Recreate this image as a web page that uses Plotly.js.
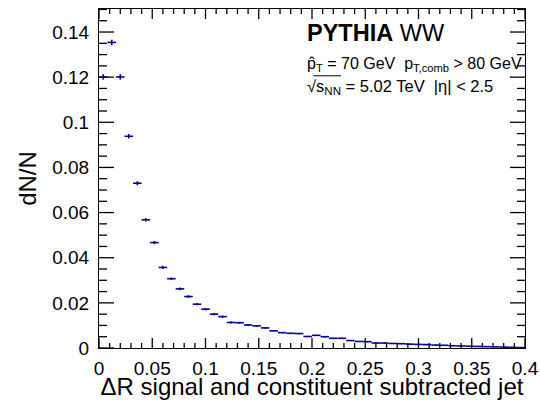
<!DOCTYPE html>
<html>
<head>
<meta charset="utf-8">
<script src="https://cdn.plot.ly/plotly-3.0.1.min.js"></script>
<style>html,body{margin:0;padding:0;background:#fff;}#chart{width:540px;height:400px;}</style>
</head>
<body>
<div id="chart"></div>
<script>
// Bin centres of Delta R (bin width 0.008, 50 bins from 0 to 0.4)
const binWidth = 0.008;
const binLow = 0.0;
const nBins = 50;
// dN/N values
const dNN = [
  0.1201, 0.1354, 0.1201, 0.0938, 0.0730, 0.0568, 0.0467, 0.0357, 0.0307, 0.0262,
  0.0228, 0.0194, 0.0172, 0.0150, 0.0139, 0.0113, 0.0112, 0.0102, 0.0098, 0.0089,
  0.0076, 0.0068, 0.0065, 0.0064, 0.0051, 0.0056, 0.0050, 0.0043, 0.0043, 0.0033,
  0.0029, 0.0028, 0.0022, 0.0022, 0.0020, 0.0019, 0.0017, 0.0016, 0.0015, 0.0013,
  0.0012, 0.0010, 0.0009, 0.0008, 0.0007, 0.0006, 0.0005, 0.0004, 0.0003, 0.0002
];
// vertical (statistical) error estimates
const dNNerr = [
  0.0012, 0.0012, 0.0012, 0.0010, 0.0009, 0.0008, 0.0007, 0.0007, 0.0006, 0.0006,
  0.0006, 0.0005, 0.0005, 0.0005, 0.0005, 0.0004, 0.0004, 0.0004, 0.0004, 0.0004,
  0.0003, 0.0003, 0.0003, 0.0003, 0.0003, 0.0003, 0.0003, 0.0002, 0.0002, 0.0002,
  0.0002, 0.0002, 0.0002, 0.0002, 0.0002, 0.0002, 0.0002, 0.0001, 0.0001, 0.0001,
  0.0001, 0.0001, 0.0001, 0.0001, 0.0001, 0.0001, 0.0001, 0.0001, 0.0001, 0.0001
];
const xTickVals = [0, 0.05, 0.1, 0.15, 0.2, 0.25, 0.3, 0.35, 0.4];
const xTickText = ['0', '0.05', '0.1', '0.15', '0.2', '0.25', '0.3', '0.35', '0.4'];
const yTickVals = [0, 0.02, 0.04, 0.06, 0.08, 0.1, 0.12, 0.14];
const yTickText = ['0', '0.02', '0.04', '0.06', '0.08', '0.1', '0.12', '0.14'];
const xMinorStep = 0.01;
const yMinorStep = 0.005;

const xCenters = [];
for (let i = 0; i < nBins; i++) xCenters.push(binLow + binWidth * (i + 0.5));

const col = '#000099';
const trace = {
  x: xCenters,
  y: dNN,
  type: 'scatter',
  mode: 'markers',
  marker: {size: 1, color: col},
  error_x: {type: 'constant', value: binWidth / 2, width: 0, thickness: 1.6, color: col},
  error_y: {type: 'data', array: dNNerr, visible: true, width: 0, thickness: 1.6, color: col},
  hoverinfo: 'skip',
  showlegend: false
};

const font = 'Liberation Sans, Arial, Helvetica, sans-serif';
const xRange = [0, 0.4];
const yRange = [0, 0.1502];
const W = 540, H = 400, M = {l: 99, r: 15, t: 9, b: 52};
const plotW = W - M.l - M.r, plotH = H - M.t - M.b;

// ROOT-style inside tick marks on all four sides (axis furniture built from the tick arrays)
const isMajor = (v, arr) => arr.some(t => Math.abs(t - v) < 1e-9);
const ySpan = yRange[1] - yRange[0], xSpan = xRange[1] - xRange[0];
const bx = [], by = [], tpx = [], tpy = [], lx = [], ly = [], rx = [], ry = [];
for (let i = 0; ; i++) {
  const v = Math.round((xRange[0] + i * xMinorStep) * 1e6) / 1e6;
  if (v > xRange[1] + 1e-9) break;
  const len = (isMajor(v, xTickVals) ? 10 : 5) / plotH * ySpan;
  bx.push(v, v, null); by.push(yRange[0], yRange[0] + len, null);
  tpx.push(v, v, null); tpy.push(yRange[1], yRange[1] - len, null);
}
for (let i = 0; ; i++) {
  const v = Math.round((yRange[0] + i * yMinorStep) * 1e6) / 1e6;
  if (v > yRange[1] + 1e-9) break;
  const len = (isMajor(v, yTickVals) ? 15 : 8) / plotW * xSpan;
  lx.push(xRange[0], xRange[0] + len, null); ly.push(v, v, null);
  rx.push(xRange[1], xRange[1] - len, null); ry.push(v, v, null);
}
const tickStyle = {type: 'scatter', mode: 'lines', connectgaps: false, cliponaxis: false,
  line: {color: '#000', width: 1.3, simplify: false}, hoverinfo: 'skip', showlegend: false};
const tickTraces = [
  Object.assign({x: bx, y: by}, tickStyle),
  Object.assign({x: tpx, y: tpy}, tickStyle),
  Object.assign({x: lx, y: ly}, tickStyle),
  Object.assign({x: rx, y: ry}, tickStyle)
];

const layout = {
  width: W, height: H,
  margin: M,
  paper_bgcolor: '#fff', plot_bgcolor: '#fff',
  font: {family: font, color: '#000', size: 19},
  xaxis: {
    range: xRange, showgrid: false, zeroline: false,
    showline: true, linecolor: '#000', linewidth: 1, mirror: true,
    tickmode: 'array', tickvals: xTickVals, ticktext: xTickText,
    ticks: '', ticklabelstandoff: 3,
    tickfont: {size: 19, family: font},
    title: {text: '\u0394R signal and constituent subtracted jet', font: {size: 24, family: font}, standoff: 3}
  },
  yaxis: {
    range: yRange, showgrid: false, zeroline: false,
    showline: true, linecolor: '#000', linewidth: 1, mirror: true,
    tickmode: 'array', tickvals: yTickVals, ticktext: yTickText,
    ticks: '', ticklabelstandoff: 5,
    tickfont: {size: 19, family: font},
    title: {text: 'dN/N', font: {size: 24, family: font}, standoff: 8}
  },
  shapes: [
    // overline of the square root in the annotation
    {type: 'line', xref: 'paper', yref: 'paper', x0: 0.5035, x1: 0.568, y0: 0.803, y1: 0.803,
     line: {color: '#000', width: 1}}
  ],
  annotations: [
    {xref: 'paper', yref: 'paper', x: 0.484, y: 0.929, xanchor: 'left', yanchor: 'middle', showarrow: false,
     text: '<b>PYTHIA</b> WW', font: {size: 23.5, family: font}},
    {xref: 'paper', yref: 'paper', x: 0.484, y: 0.837, xanchor: 'left', yanchor: 'middle', showarrow: false,
     text: 'p\u0302<sub>T</sub> = 70 GeV  p<sub>T,comb</sub> > 80 GeV', font: {size: 16, family: font}},
    {xref: 'paper', yref: 'paper', x: 0.484, y: 0.771, xanchor: 'left', yanchor: 'middle', showarrow: false,
     text: '\u221As<sub>NN</sub> = 5.02 TeV  |\u03B7| < 2.5', font: {size: 16.5, family: font}}
  ]
};

Plotly.newPlot('chart', tickTraces.concat([trace]), layout, {staticPlot: true, displayModeBar: false});
</script>
</body>
</html>
